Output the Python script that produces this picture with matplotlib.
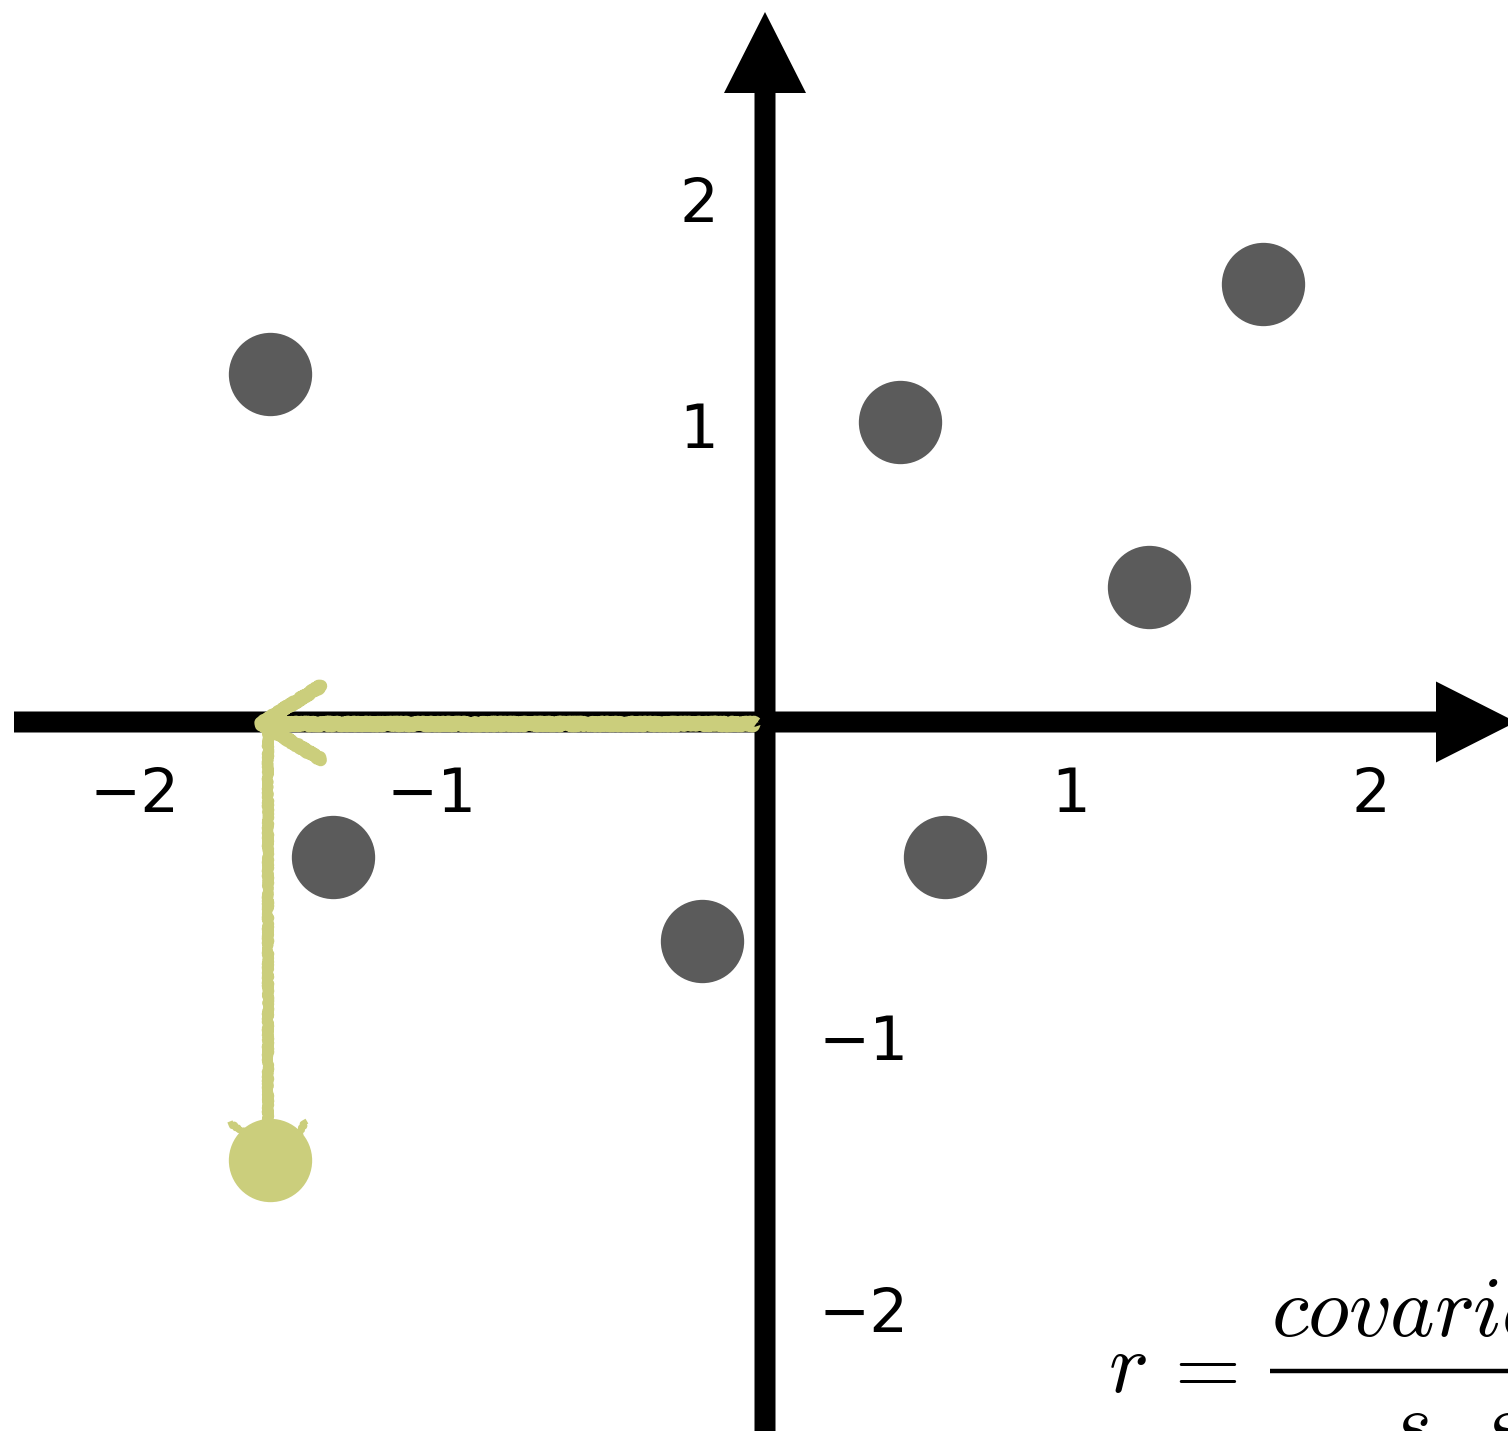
import matplotlib
matplotlib.use("Agg")
import matplotlib.pyplot as plt
from matplotlib.lines import Line2D

plt.rcParams['mathtext.fontset'] = 'cm'
plt.rcParams['font.family'] = ['DejaVu Sans']

# ---- data ----
point_x = [-1.65, 0.45, 1.66, 1.28, -1.44, 0.60, -0.21]
point_y = [1.16, 1.00, 1.46, 0.45, -0.45, -0.45, -0.73]
highlight_x = [-1.65]
highlight_y = [-1.46]

xtick_labels = ['\u22122', '\u22121', '1', '2']
xtick_pos = [-2.10, -1.11, 1.02, 2.02]
ytick_labels = ['2', '1', '\u22121', '\u22122']
ytick_pos = [1.72, 0.97, -1.07, -1.98]
ytick_x = [-0.22, -0.22, 0.33, 0.33]

formula_lhs = r'$r$'
formula_eq = r'$=$'
formula_num = r'$covariance$'
formula_den = r'$s_x\,s_y$'

# ---- figure ----
W, H = 1508, 1431
fig = plt.figure(figsize=(W / 100, H / 100), dpi=100)
ax = fig.add_axes([0, 0, 1, 1])
unit = 300.0
ox, oy = 765, 722
ax.set_xlim(-ox / unit, (W - ox) / unit)
ax.set_ylim(-(H - oy) / unit, oy / unit)
ax.axis('off')

px = 1.0 / unit
# axes arrows
ax.arrow(14 * px - ox / unit, 0, (1516 - 14) * px, 0, width=21 * px,
         head_width=81 * px, head_length=80 * px, length_includes_head=True,
         color='black', zorder=2, linewidth=0)
ax.arrow(0, -(H + 10 - oy) * px, 0, (H + 10 - 12) * px, width=21 * px,
         head_width=82 * px, head_length=81 * px, length_includes_head=True,
         color='black', zorder=2, linewidth=0)

# tick labels
for lab, xp in zip(xtick_labels, xtick_pos):
    ax.text(xp, -0.245, lab, fontsize=44, ha='center', va='center', zorder=3)
for lab, yp, xp in zip(ytick_labels, ytick_pos, ytick_x):
    ax.text(xp, yp, lab, fontsize=44, ha='center', va='center', zorder=3)

# grey points
ax.plot(point_x, point_y, 'o', color='#5b5b5b', markersize=60,
        markeredgewidth=0, zorder=5)

# yellow crayon path
yel = '#cbce7c'
hx = highlight_x[0]
hy = highlight_y[0]
l1, = ax.plot([-0.03, hx - 0.03], [-0.005, -0.005], color=yel, lw=10,
              solid_capstyle='butt', zorder=4)
l2, = ax.plot([hx - 0.005, hx - 0.005], [0.0, hy + 0.13], color=yel, lw=7,
              solid_capstyle='butt', zorder=4)
l3, = ax.plot([hx + 0.17, hx - 0.03, hx + 0.17], [0.12, -0.005, -0.125],
              color=yel, lw=9, solid_capstyle='round', zorder=4)
l4, = ax.plot([hx - 0.13, hx - 0.08], [hy + 0.12, hy + 0.09], color=yel,
              lw=4, zorder=4)
l5, = ax.plot([hx + 0.115, hx + 0.10], [hy + 0.125, hy + 0.09], color=yel,
              lw=4, zorder=4)
for ln in (l1, l2, l3, l4, l5):
    ln.set_sketch_params(scale=1.5, length=4, randomness=3)

ax.plot(highlight_x, highlight_y, 'o', color=yel, markersize=60,
        markeredgewidth=0, zorder=6)

# formula (cut off at the right edge, as in the original)
fs = 61
fig.text(1108 / W, 1 - 1392 / H, formula_lhs, fontsize=fs, ha='left',
         va='baseline')
fig.text(1160 / W, 1 - 1392 / H, formula_eq, fontsize=fs, ha='left',
         va='baseline')
num = fig.text(1271 / W, 1 - 1336 / H, formula_num, fontsize=fs, ha='left',
               va='baseline')
fig.canvas.draw()
bb = num.get_window_extent()
num_center = (bb.x0 + bb.x1) / 2.0
fig.add_artist(Line2D([1270 / W, (bb.x1 + 4) / W],
                      [1 - 1371 / H, 1 - 1371 / H],
                      transform=fig.transFigure, color='black', lw=3.2,
                      solid_capstyle='butt'))
fig.text(num_center / W, 1 - 1450 / H, formula_den, fontsize=fs,
         ha='center', va='baseline')

fig.savefig('out.png', dpi=100)
